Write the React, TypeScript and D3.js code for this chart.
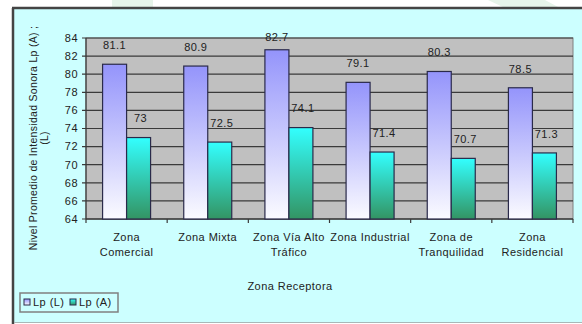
import React from "react";
import * as d3 from "d3";

const categories: string[][] = [
  ["Zona", "Comercial"],
  ["Zona Mixta"],
  ["Zona Vía Alto", "Tráfico"],
  ["Zona Industrial"],
  ["Zona de", "Tranquilidad"],
  ["Zona", "Residencial"],
];
const seriesNames = ["Lp (L)", "Lp (A)"];
const lpL = [81.1, 80.9, 82.7, 79.1, 80.3, 78.5];
const lpA = [73, 72.5, 74.1, 71.4, 70.7, 71.3];
const yTicks = [64, 66, 68, 70, 72, 74, 76, 78, 80, 82, 84];
const yTitle = ["Nivel Promedio de Intensidad Sonora Lp (A) ;", "(L)"];
const xTitle = "Zona Receptora";

const W = 582;
const H = 324;
const FONT = "'Liberation Sans', Arial, sans-serif";

export default function App() {
  const plot = { left: 86, right: 573, top: 38, bottom: 219 };
  const x0 = d3
    .scaleBand<number>()
    .domain(d3.range(categories.length))
    .range([plot.left, plot.right])
    .paddingInner(0)
    .paddingOuter(0);
  const groupW = x0.bandwidth();
  const barW = 24;
  const y = d3.scaleLinear().domain([64, 84]).range([plot.bottom, plot.top]);
  const series = [lpL, lpA];
  const grads = ["gL", "gA"];
  const ls = 0.45;

  return (
    <svg
      width={W}
      height={H}
      style={{ position: "absolute", left: 0, top: 0, fontFamily: FONT }}
    >
      <defs>
        <linearGradient id="gL" x1="0" y1="0" x2="0" y2="1">
          <stop offset="0" stopColor="#9494fb" />
          <stop offset="1" stopColor="#fbfbff" />
        </linearGradient>
        <linearGradient id="gA" x1="0" y1="0" x2="0" y2="1">
          <stop offset="0" stopColor="#33ffff" />
          <stop offset="1" stopColor="#339463" />
        </linearGradient>
      </defs>
      <rect x={0} y={0} width={W} height={H} fill="#ffffff" />
      {/* faint watermark shapes */}
      <rect x={112} y={0} width={41} height={8} fill="#e6f4ea" />
      <polygon points="488,0 545,0 560,8 505,8" fill="#e6f4ea" />
      {/* chart frame */}
      <rect x={14} y={9} width={W - 14} height={313} fill="#ccffff" />
      <line x1={12} y1={8} x2={W} y2={8} stroke="#444" strokeWidth={2.5} />
      <line x1={13} y1={8} x2={13} y2={H} stroke="#444" strokeWidth={2.5} />
      <line x1={14} y1={322.5} x2={W} y2={322.5} stroke="#a8b8b8" strokeWidth={1} />

      {/* plot area */}
      <rect
        x={plot.left}
        y={plot.top}
        width={plot.right - plot.left}
        height={plot.bottom - plot.top}
        fill="#c0c0c0"
        stroke="#808080"
        strokeWidth={1}
      />
      {yTicks.map((t) => (
        <g key={t}>
          <line
            x1={plot.left - 4}
            x2={plot.right}
            y1={y(t)}
            y2={y(t)}
            stroke="#3a3a3a"
            strokeWidth={1.2}
          />
          <text
            x={78}
            y={y(t)}
            dy="0.35em"
            textAnchor="end"
            fontSize={11}
            letterSpacing={ls}
            fill="#222"
          >
            {t}
          </text>
        </g>
      ))}
      <line x1={plot.left} x2={plot.left} y1={plot.top} y2={plot.bottom} stroke="#3a3a3a" strokeWidth={1.2} />
      <line x1={plot.left} x2={plot.right} y1={plot.bottom} y2={plot.bottom} stroke="#3a3a3a" strokeWidth={1.2} />
      {d3.range(categories.length + 1).map((i) => (
        <line
          key={i}
          x1={plot.left + i * groupW}
          x2={plot.left + i * groupW}
          y1={plot.bottom}
          y2={plot.bottom + 4}
          stroke="#3a3a3a"
          strokeWidth={1.2}
        />
      ))}

      {/* bars */}
      {categories.map((_, i) => {
        const cx = (x0(i) as number) + groupW / 2;
        return (
          <g key={i}>
            {series.map((s, k) => {
              const bx = cx - barW + k * barW;
              const top = y(s[i]);
              return (
                <rect
                  key={k}
                  x={bx}
                  y={top}
                  width={barW}
                  height={plot.bottom - top}
                  fill={`url(#${grads[k]})`}
                  stroke="#2a2a4a"
                  strokeWidth={1.2}
                />
              );
            })}
            {series.map((s, k) => {
              const bx = cx - barW + k * barW + barW / 2 + (k === 1 ? 2 : 0);
              const ly = Math.max(y(s[i]) - 19, plot.top - 1);
              return (
                <text
                  key={"l" + k}
                  x={bx}
                  y={ly}
                  dy="0.35em"
                  textAnchor="middle"
                  fontSize={11}
                  letterSpacing={ls}
                  fill="#222"
                >
                  {String(s[i])}
                </text>
              );
            })}
            {categories[i].map((line, j) => (
              <text
                key={"c" + j}
                x={cx}
                y={241 + j * 15}
                textAnchor="middle"
                fontSize={11}
                letterSpacing={ls}
                fill="#222"
              >
                {line}
              </text>
            ))}
          </g>
        );
      })}

      {/* axis titles */}
      <text
        x={290}
        y={290}
        textAnchor="middle"
        fontSize={11}
        letterSpacing={ls}
        fill="#222"
      >
        {xTitle}
      </text>
      {yTitle.map((line, j) => (
        <text
          key={j}
          transform={`translate(${37 + j * 11},138) rotate(-90)`}
          textAnchor="middle"
          fontSize={10.5}
          letterSpacing={0.3}
          fill="#222"
        >
          {line}
        </text>
      ))}

      {/* legend */}
      <rect x={20} y={293} width={98} height={19} fill="#ccffff" stroke="#808080" strokeWidth={1.5} />
      {seriesNames.map((n, k) => (
        <g key={n} transform={`translate(${24 + k * 46},0)`}>
          <rect x={0} y={299} width={6} height={6} fill={`url(#${grads[k]})`} stroke="#2a2a4a" strokeWidth={1} />
          <text x={9} y={306} fontSize={11} letterSpacing={ls} fill="#222">
            {n}
          </text>
        </g>
      ))}
    </svg>
  );
}
